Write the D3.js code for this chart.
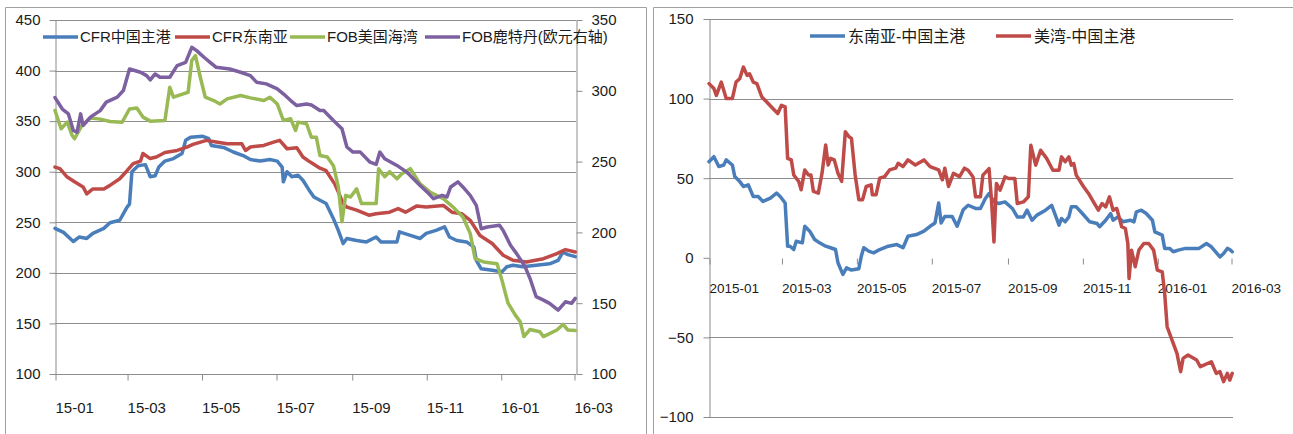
<!DOCTYPE html>
<html>
<head>
<meta charset="utf-8">
<script src="https://cdn.jsdelivr.net/npm/d3@7"></script>
<style>
  body { margin: 0; background: #fff; }
  svg text { font-family: "Liberation Sans", "Noto Sans CJK SC", sans-serif; fill: #1b1b1b; }
</style>
</head>
<body>
<svg id="chart" width="1293" height="434"></svg>
<script>
// ---------- Left panel: prices (USD/t, Rotterdam in EUR on right axis) ----------
const cfrChina = [
  ["2015-01-01",244],["2015-01-08",240],["2015-01-16",231],["2015-01-21",235.5],["2015-01-27",234],
  ["2015-02-01",239],["2015-02-10",244],["2015-02-15",249.5],["2015-02-23",252],["2015-03-01",265],
  ["2015-03-03",268],["2015-03-05",300],["2015-03-10",306],["2015-03-16",307],["2015-03-20",295],
  ["2015-03-24",296],["2015-03-27",304.6],["2015-04-01",310.5],["2015-04-08",313],["2015-04-15",318],
  ["2015-04-18",331],["2015-04-22",334],["2015-05-02",335],["2015-05-07",332.6],["2015-05-09",326],
  ["2015-05-19",324],["2015-05-27",319.5],["2015-06-04",316],["2015-06-10",312],["2015-06-18",310.5],
  ["2015-06-26",312],["2015-07-02",310.5],["2015-07-06",304.6],["2015-07-07",290],["2015-07-10",300],
  ["2015-07-14",295],["2015-07-19",296.6],["2015-07-23",291.5],["2015-07-28",282],["2015-08-01",275],
  ["2015-08-06",271.7],["2015-08-11",268.5],["2015-08-17",253.6],["2015-08-21",242],["2015-08-25",229],
  ["2015-08-28",234],["2015-09-05",232],["2015-09-13",230.6],["2015-09-21",235.5],["2015-09-25",230.6],
  ["2015-10-08",230.6],["2015-10-10",240.5],["2015-10-19",237],["2015-10-27",234],["2015-11-01",239],
  ["2015-11-09",242],["2015-11-16",245.5],["2015-11-20",235.5],["2015-11-26",232],["2015-12-04",230.6],
  ["2015-12-10",225.6],["2015-12-12",212.4],["2015-12-16",204],["2015-12-25",202.6],["2016-01-02",201],
  ["2016-01-06",206],["2016-01-11",207.5],["2016-01-19",206],["2016-01-30",207.5],["2016-02-10",209],
  ["2016-02-17",212.4],["2016-02-21",220.6],["2016-02-25",218],["2016-03-02",216]
];
const cfrSEAsia = [
  ["2015-01-01",304.6],["2015-01-05",303],["2015-01-11",294.7],["2015-01-17",290],["2015-01-24",285],
  ["2015-01-27",278],["2015-02-01",283],["2015-02-10",283],["2015-02-15",286.5],["2015-02-23",293],
  ["2015-03-01",301],["2015-03-06",308],["2015-03-12",310.5],["2015-03-14",318],["2015-03-20",313],
  ["2015-03-25",314.5],["2015-04-01",319],["2015-04-11",321],["2015-04-19",324.4],["2015-04-24",327],
  ["2015-05-05",331],["2015-05-13",329.3],["2015-05-22",327.6],["2015-06-03",327.6],["2015-06-06",321],
  ["2015-06-10",324.4],["2015-06-21",326],["2015-06-29",329.3],["2015-07-04",331],["2015-07-10",322.7],
  ["2015-07-18",323.7],["2015-07-23",314.5],["2015-07-29",309.5],["2015-08-06",303.5],["2015-08-11",301],
  ["2015-08-18",288],["2015-08-21",280],["2015-08-25",268.4],["2015-08-28",265],["2015-09-05",262],
  ["2015-09-15",257],["2015-09-21",258.5],["2015-10-02",260],["2015-10-09",263.5],["2015-10-15",260],
  ["2015-10-24",266],["2015-11-01",265],["2015-11-15",266.7],["2015-11-22",260],["2015-11-30",258.5],
  ["2015-12-07",252],["2015-12-15",237],["2015-12-25",229],["2016-01-03",217.4],["2016-01-11",212.4],
  ["2016-01-22",210.8],["2016-02-05",214],["2016-02-16",219],["2016-02-23",223],["2016-03-02",220.6]
];
const fobUSGulf = [
  ["2015-01-01",360.5],["2015-01-06",342.5],["2015-01-11",349],["2015-01-15",336],["2015-01-17",332.6],
  ["2015-01-23",345.7],["2015-01-30",353],["2015-02-07",352],["2015-02-15",349.7],["2015-02-25",349],
  ["2015-03-03",362],["2015-03-09",363],["2015-03-14",354],["2015-03-20",350],["2015-04-01",350.7],
  ["2015-04-05",383.5],["2015-04-08",373.7],["2015-04-16",377],["2015-04-20",378.6],["2015-04-23",410],
  ["2015-04-26",414.8],["2015-04-30",393.4],["2015-05-04",373.7],["2015-05-11",370.4],["2015-05-16",367],
  ["2015-05-22",372],["2015-06-02",375.3],["2015-06-10",373],["2015-06-21",370.4],["2015-06-26",373.7],
  ["2015-07-02",367],["2015-07-07",350.7],["2015-07-13",352.3],["2015-07-17",340.8],["2015-07-19",349],
  ["2015-07-26",347.4],["2015-07-30",334],["2015-08-03",334],["2015-08-06",316],["2015-08-12",314.5],
  ["2015-08-17",306],["2015-08-21",285],["2015-08-24",250.5],["2015-08-27",276.6],["2015-08-31",275],
  ["2015-09-05",283],["2015-09-09",268.5],["2015-09-21",268.5],["2015-09-23",303],["2015-09-28",295],
  ["2015-10-02",300],["2015-10-08",293],["2015-10-12",298],["2015-10-19",303],["2015-10-27",288],
  ["2015-11-04",280],["2015-11-15",273.3],["2015-11-23",265],["2015-12-01",255.3],["2015-12-07",239],
  ["2015-12-11",214],["2015-12-18",210.8],["2015-12-29",209],["2016-01-02",192.7],["2016-01-07",170],
  ["2016-01-13",158.2],["2016-01-17",151.6],["2016-01-20",137],["2016-01-25",144],["2016-02-02",141.8],
  ["2016-02-05",137],["2016-02-16",143.5],["2016-02-21",149],["2016-02-25",143.5],["2016-03-02",143]
];
// Rotterdam FOB, EUR, plotted on the right-hand axis
const fobRotterdam = [
  ["2015-01-01",295.2],["2015-01-07",287.1],["2015-01-12",283.7],["2015-01-16",272],["2015-01-19",270.7],
  ["2015-01-22",283.7],["2015-01-24",275.5],["2015-01-30",281.4],["2015-02-07",286],["2015-02-12",292],
  ["2015-02-21",295.5],["2015-02-26",300.2],["2015-03-03",315.4],["2015-03-12",313.1],["2015-03-17",310.7],
  ["2015-03-20",307.7],["2015-03-24",311.9],["2015-03-28",309.6],["2015-04-05",309.6],["2015-04-11",317.8],
  ["2015-04-18",320.1],["2015-04-23",330.7],["2015-04-27",328.4],["2015-05-03",323.7],["2015-05-08",320.1],
  ["2015-05-13",316.6],["2015-05-24",315.4],["2015-06-02",313.1],["2015-06-10",310.7],["2015-06-15",306.1],
  ["2015-06-23",304.9],["2015-07-02",301.4],["2015-07-07",297.9],["2015-07-13",293.1],["2015-07-18",289.6],
  ["2015-07-26",290.7],["2015-07-30",290],["2015-08-06",286.1],["2015-08-09",286.1],["2015-08-17",279],
  ["2015-08-24",273.2],["2015-08-28",260.3],["2015-09-02",256.7],["2015-09-08",256.7],["2015-09-16",249.6],
  ["2015-09-21",248],["2015-09-24",256.7],["2015-09-28",252],["2015-10-08",247.3],["2015-10-16",242.6],
  ["2015-10-27",233.2],["2015-11-03",227.4],["2015-11-07",223.8],["2015-11-14",226.2],["2015-11-18",225],
  ["2015-11-21",232.1],["2015-11-27",235.7],["2015-12-01",232.1],["2015-12-07",226.2],["2015-12-12",219.1],
  ["2015-12-16",202.6],["2015-12-21",203.8],["2015-12-31",205],["2016-01-03",201.4],["2016-01-09",190.9],
  ["2016-01-14",185],["2016-01-21",175.7],["2016-01-25",167.4],["2016-01-30",154.6],["2016-02-05",152.2],
  ["2016-02-10",149.9],["2016-02-17",145.1],["2016-02-23",151],["2016-02-28",149.9],["2016-03-02",153.4]
];

// ---------- Right panel: spreads ----------
const spreadSEAsia = [
  ["2015-01-01",60.4],["2015-01-05",63.5],["2015-01-09",57.3],["2015-01-13",58.3],["2015-01-15",61.5],
  ["2015-01-20",58.3],["2015-01-22",51],["2015-01-26",48],["2015-01-29",44.8],["2015-02-02",45.8],
  ["2015-02-06",38.5],["2015-02-10",38.5],["2015-02-14",35.4],["2015-02-20",37.5],["2015-02-25",40.6],
  ["2015-02-28",38.5],["2015-03-04",34.4],["2015-03-06",7.3],["2015-03-08",7.3],["2015-03-11",5.2],
  ["2015-03-13",10.4],["2015-03-18",9.4],["2015-03-20",19.8],["2015-03-24",16.7],["2015-03-28",11.5],
  ["2015-04-01",9.4],["2015-04-06",7.3],["2015-04-10",6.3],["2015-04-14",5.2],["2015-04-16",-3.1],
  ["2015-04-20",-10.4],["2015-04-23",-6.3],["2015-04-27",-7.7],["2015-05-03",-6.9],["2015-05-05",1],
  ["2015-05-07",6.3],["2015-05-11",4.2],["2015-05-15",3.1],["2015-05-20",5.2],["2015-05-27",7.3],
  ["2015-06-03",8.3],["2015-06-08",6.3],["2015-06-12",13.5],["2015-06-19",14.6],["2015-06-25",16.7],
  ["2015-06-30",19.8],["2015-07-04",21.9],["2015-07-07",34.4],["2015-07-09",21.9],["2015-07-12",26],
  ["2015-07-18",26],["2015-07-22",19.8],["2015-07-27",30.2],["2015-07-31",33],["2015-08-06",31],
  ["2015-08-10",31],["2015-08-14",37.2],["2015-08-17",40.4],["2015-08-21",35.1],["2015-08-25",34.1],
  ["2015-08-30",35.1],["2015-09-05",31],["2015-09-09",25.7],["2015-09-14",25.7],["2015-09-17",29.9],
  ["2015-09-21",23.6],["2015-09-25",26.8],["2015-10-02",29.9],["2015-10-07",33],["2015-10-10",26.8],
  ["2015-10-13",20.5],["2015-10-15",24.7],["2015-10-18",22.6],["2015-10-21",25.7],["2015-10-23",32],
  ["2015-10-27",32],["2015-11-01",27.8],["2015-11-07",22.6],["2015-11-13",21.5],["2015-11-15",19.5],
  ["2015-11-20",23.6],["2015-11-24",27.8],["2015-11-26",23.6],["2015-11-30",25.7],["2015-12-04",22.6],
  ["2015-12-10",23.6],["2015-12-13",22.6],["2015-12-15",28.9],["2015-12-19",29.9],["2015-12-23",27.8],
  ["2015-12-28",23.6],["2015-12-30",16.3],["2016-01-05",14.2],["2016-01-07",5.9],["2016-01-11",5.9],
  ["2016-01-14",3.8],["2016-01-18",4.8],["2016-01-24",5.9],["2016-02-04",5.9],["2016-02-10",9],
  ["2016-02-14",6.9],["2016-02-21",0.6],["2016-02-24",2.7],["2016-02-27",5.9],["2016-02-29",5.2],
  ["2016-03-02",3.8]
];
const spreadUSGulf = [
  ["2015-01-01",109.4],["2015-01-05",106.3],["2015-01-07",102],["2015-01-11",110.4],["2015-01-15",100],
  ["2015-01-20",100],["2015-01-23",110.4],["2015-01-26",112.5],["2015-01-29",119.8],["2015-02-01",114.6],
  ["2015-02-03",115.6],["2015-02-06",110.4],["2015-02-09",109.4],["2015-02-13",101],["2015-02-17",97.9],
  ["2015-02-22",93.8],["2015-02-26",90.6],["2015-03-01",95.8],["2015-03-04",94.8],["2015-03-06",62.5],
  ["2015-03-09",61.5],["2015-03-11",52],["2015-03-15",48],["2015-03-17",42.7],["2015-03-20",55.2],
  ["2015-03-23",52],["2015-03-25",52],["2015-03-27",41.7],["2015-03-31",40.6],["2015-04-03",53],
  ["2015-04-06",70.8],["2015-04-08",58.3],["2015-04-10",62.5],["2015-04-13",61.5],["2015-04-16",53.1],
  ["2015-04-19",48],["2015-04-22",79.2],["2015-04-25",76],["2015-04-27",75],["2015-04-30",52],
  ["2015-05-03",36.5],["2015-05-06",36.5],["2015-05-09",44.8],["2015-05-13",45.8],["2015-05-14",39.6],
  ["2015-05-17",39.6],["2015-05-20",50],["2015-05-24",51],["2015-05-28",55.2],["2015-06-02",56.3],
  ["2015-06-04",59.4],["2015-06-08",57.3],["2015-06-12",61.5],["2015-06-18",58.3],["2015-06-25",61.5],
  ["2015-06-30",57.3],["2015-07-07",55.2],["2015-07-10",49],["2015-07-12",56.3],["2015-07-15",44.8],
  ["2015-07-19",53],["2015-07-24",51],["2015-07-28",56.3],["2015-07-31",55],["2015-08-04",50.8],
  ["2015-08-06",38.3],["2015-08-10",38.3],["2015-08-12",51.9],["2015-08-17",56],["2015-08-19",36.2],
  ["2015-08-21",10],["2015-08-23",46.7],["2015-08-26",42.5],["2015-08-30",50.8],["2015-09-02",49.8],
  ["2015-09-07",49.8],["2015-09-09",34.1],["2015-09-14",35.1],["2015-09-18",38.3],["2015-09-20",70.7],
  ["2015-09-24",58.2],["2015-09-28",67.6],["2015-10-03",62.3],["2015-10-08",55],["2015-10-13",55],
  ["2015-10-15",63.4],["2015-10-18",60.3],["2015-10-21",63.4],["2015-10-23",58.2],["2015-10-25",59.2],
  ["2015-10-27",51.9],["2015-11-02",44.6],["2015-11-06",40.4],["2015-11-10",35.1],["2015-11-14",29.9],
  ["2015-11-17",34.1],["2015-11-20",32],["2015-11-23",38.3],["2015-11-26",29.9],["2015-11-29",31],
  ["2015-12-03",19.5],["2015-12-06",18.4],["2015-12-08",9],["2015-12-09",-13],["2015-12-11",4.8],
  ["2015-12-14",-5.6],["2015-12-17",4.8],["2015-12-21",9],["2015-12-25",9],["2015-12-29",4.8],
  ["2016-01-01",-7.7],["2016-01-05",-8.8],["2016-01-07",-22.4],["2016-01-09",-43.3],["2016-01-13",-51.7],
  ["2016-01-17",-60],["2016-01-20",-71.5],["2016-01-22",-63.2],["2016-01-26",-61.1],["2016-02-02",-64.2],
  ["2016-02-05",-68.4],["2016-02-08",-67.4],["2016-02-14",-65.3],["2016-02-18",-72.6],["2016-02-21",-71.5],
  ["2016-02-24",-77.8],["2016-02-27",-72.6],["2016-02-29",-76.8],["2016-03-02",-72.6]
];

// Axis ticks and labels
const priceTicksLeft = [100, 150, 200, 250, 300, 350, 400, 450];
const priceTicksRight = [100, 150, 200, 250, 300, 350];
const spreadTicks = [-100, -50, 0, 50, 100, 150];
const monthTicks = ["2015-01-01","2015-03-01","2015-05-01","2015-07-01","2015-09-01","2015-11-01","2016-01-01","2016-03-01"];
const dateRange = ["2015-01-01", "2016-03-01"];

const leftSeries = [
  { name: "CFR中国主港", data: cfrChina, color: "#4a7ebb", axis: "left" },
  { name: "CFR东南亚", data: cfrSEAsia, color: "#be4b48", axis: "left" },
  { name: "FOB美国海湾", data: fobUSGulf, color: "#98b954", axis: "left" },
  { name: "FOB鹿特丹(欧元右轴)", data: fobRotterdam, color: "#7d60a0", axis: "right" }
];
const rightSeries = [
  { name: "东南亚-中国主港", data: spreadSEAsia, color: "#4a7ebb" },
  { name: "美湾-中国主港", data: spreadUSGulf, color: "#be4b48" }
];

const parse = d3.timeParse("%Y-%m-%d");
const svg = d3.select("#chart");
const gridColor = "#8c8c8c";
const lineWidth = 3.5;

// Panel frames
svg.append("path")
  .attr("d", "M5.5,440V7.5H646.5V440")
  .attr("fill", "none").attr("stroke", "#a0a0a0");
svg.append("path")
  .attr("d", "M653.5,440V7.5H1300")
  .attr("fill", "none").attr("stroke", "#a0a0a0");

function styleAxis(g, size) {
  g.selectAll("path.domain").attr("stroke", gridColor);
  g.selectAll(".tick line").attr("stroke", gridColor);
  g.selectAll("text").attr("font-size", size).attr("fill", "#1b1b1b");
}

// ================= Left panel =================
const xL = d3.scaleTime().domain(dateRange.map(parse)).range([55, 574]);
const yL = d3.scaleLinear().domain([100, 450]).range([374, 20]);
const yR = d3.scaleLinear().domain([100, 350]).range([374, 20]);
const leftPlot = svg.append("g");

leftPlot.append("g").selectAll("line").data(priceTicksLeft).join("line")
  .attr("x1", 55).attr("x2", 576)
  .attr("y1", d => Math.round(yL(d)) + 0.5).attr("y2", d => Math.round(yL(d)) + 0.5)
  .attr("stroke", gridColor).attr("stroke-width", 1);

const gLeftAxis = leftPlot.append("g").attr("transform", "translate(55.5,0)")
  .call(d3.axisLeft(yL).tickValues(priceTicksLeft).tickSize(6).tickSizeOuter(0).tickPadding(9));
styleAxis(gLeftAxis, 15);

const gRightAxis = leftPlot.append("g").attr("transform", "translate(576.5,0)")
  .call(d3.axisRight(yR).tickValues(priceTicksRight).tickSize(6).tickSizeOuter(0).tickPadding(9));
styleAxis(gRightAxis, 15);

const gBottomL = leftPlot.append("g").attr("transform", "translate(0,374.5)")
  .call(d3.axisBottom(xL).tickValues(monthTicks.map(parse)).tickFormat(d3.timeFormat("%y-%m"))
    .tickSize(6).tickSizeOuter(0));
styleAxis(gBottomL, 15);
gBottomL.select("path.domain").remove();
gBottomL.selectAll(".tick line").attr("transform", "translate(0.5,0)");
gBottomL.selectAll("text").attr("text-anchor", "start").attr("y", 38).attr("dy", 0);

leftSeries.forEach(s => {
  const yScale = s.axis === "right" ? yR : yL;
  const line = d3.line().x(d => xL(parse(d[0]))).y(d => yScale(d[1]));
  leftPlot.append("path").datum(s.data)
    .attr("d", line).attr("fill", "none")
    .attr("stroke", s.color).attr("stroke-width", lineWidth)
    .attr("stroke-linejoin", "round").attr("stroke-linecap", "round");
});

// Left legend
const leftLegendX = [43, 175, 290, 425];
leftSeries.forEach((s, i) => {
  const g = svg.append("g").attr("transform", `translate(${leftLegendX[i]},37)`);
  g.append("line").attr("x1", 0).attr("x2", 35).attr("stroke", s.color).attr("stroke-width", lineWidth);
  g.append("text").attr("x", 37).attr("dy", "0.35em").attr("font-size", 15).text(s.name);
});

// ================= Right panel =================
const xS = d3.scaleTime().domain(dateRange.map(parse)).range([709, 1231]);
const yS = d3.scaleLinear().domain([-100, 150]).range([417, 19]);
const rightPlot = svg.append("g");

rightPlot.append("g").selectAll("line").data(spreadTicks.filter(d => d !== 0)).join("line")
  .attr("x1", 709).attr("x2", 1233)
  .attr("y1", d => Math.round(yS(d)) + 0.5).attr("y2", d => Math.round(yS(d)) + 0.5)
  .attr("stroke", gridColor).attr("stroke-width", 1);

const gSpreadAxis = rightPlot.append("g").attr("transform", "translate(709.5,0)")
  .call(d3.axisLeft(yS).tickValues(spreadTicks).tickSize(6).tickSizeOuter(0).tickPadding(10));
styleAxis(gSpreadAxis, 15);

const zeroY = Math.round(yS(0)) + 0.5;
const gBottomR = rightPlot.append("g").attr("transform", `translate(0,${zeroY})`)
  .call(d3.axisBottom(xS).tickValues(monthTicks.map(parse)).tickFormat(d3.timeFormat("%Y-%m"))
    .tickSize(6).tickSizeOuter(0));
styleAxis(gBottomR, 13.5);
gBottomR.select("path.domain").remove();
gBottomR.selectAll(".tick line").attr("transform", "translate(0.5,0)");
gBottomR.selectAll("text").attr("text-anchor", "start").attr("y", 34).attr("dy", 0);

rightSeries.forEach(s => {
  const line = d3.line().x(d => xS(parse(d[0]))).y(d => yS(d[1]));
  rightPlot.append("path").datum(s.data)
    .attr("d", line).attr("fill", "none")
    .attr("stroke", s.color).attr("stroke-width", lineWidth)
    .attr("stroke-linejoin", "round").attr("stroke-linecap", "round");
});

// Right legend
const rightLegendX = [810, 996];
rightSeries.forEach((s, i) => {
  const g = svg.append("g").attr("transform", `translate(${rightLegendX[i]},36)`);
  g.append("line").attr("x1", 0).attr("x2", 35).attr("stroke", s.color).attr("stroke-width", lineWidth);
  g.append("text").attr("x", 38).attr("dy", "0.35em").attr("font-size", 16).text(s.name);
});
</script>
</body>
</html>
